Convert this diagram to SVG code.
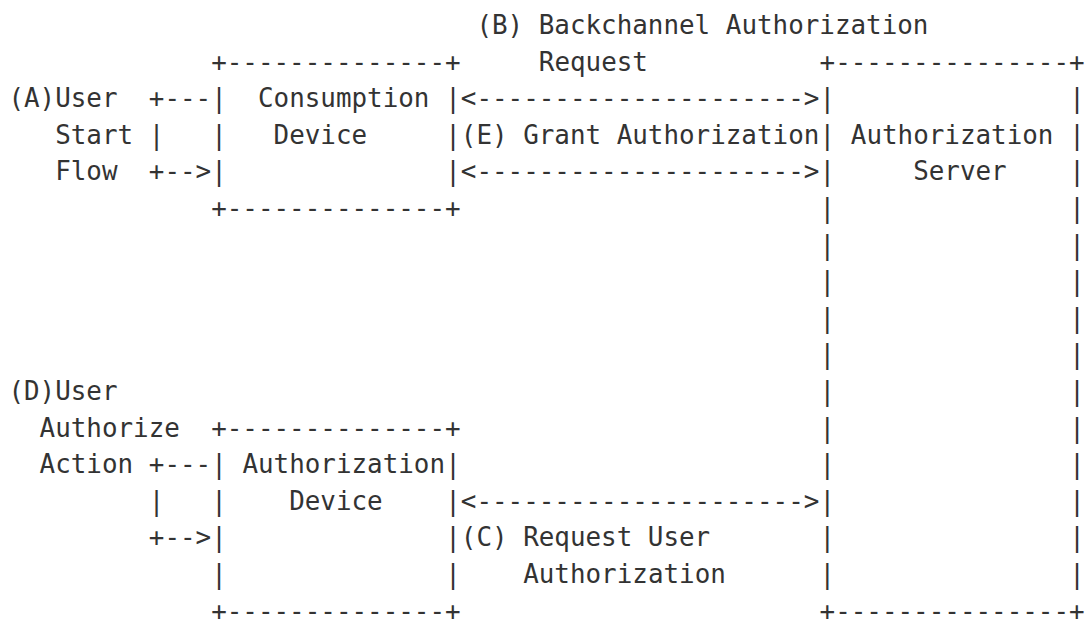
<svg xmlns="http://www.w3.org/2000/svg" width="1086" height="621" viewBox="0 0 1086 621">
<style>
text{font-family:"DejaVu Sans Mono","Liberation Mono",monospace;font-size:25.9px;fill:#333333}
</style>
<rect x="0" y="0" width="1086" height="621" fill="#ffffff"/>
<g id="user-a">
<text x="8.4" y="107.2">(A)User</text>
<text x="55.2" y="143.8">Start</text>
<text x="55.2" y="180.4">Flow</text>
</g>
<g id="user-d">
<text x="8.4" y="400">(D)User</text>
<text x="39.6" y="436.6">Authorize</text>
<text x="39.6" y="473.2">Action</text>
</g>
<g id="consumption-device">
<text x="211.2" y="70.6">+--------------+</text>
<text x="211.2" y="107.2">|</text><text x="258" y="107.2">Consumption</text><text x="445.2" y="107.2">|</text>
<text x="211.2" y="143.8">|</text><text x="273.6" y="143.8">Device</text><text x="445.2" y="143.8">|</text>
<text x="211.2" y="180.4">|</text><text x="445.2" y="180.4">|</text>
<text x="211.2" y="217">+--------------+</text>
</g>
<g id="authorization-server">
<text x="819.6" y="70.6">+---------------+</text>
<text x="819.6" y="107.2">|</text><text x="1069.2" y="107.2">|</text>
<text x="819.6" y="143.8">|</text><text x="850.8" y="143.8">Authorization</text><text x="1069.2" y="143.8">|</text>
<text x="819.6" y="180.4">|</text><text x="913.2" y="180.4">Server</text><text x="1069.2" y="180.4">|</text>
<text x="819.6" y="217">|</text><text x="1069.2" y="217">|</text>
<text x="819.6" y="253.6">|</text><text x="1069.2" y="253.6">|</text>
<text x="819.6" y="290.2">|</text><text x="1069.2" y="290.2">|</text>
<text x="819.6" y="326.8">|</text><text x="1069.2" y="326.8">|</text>
<text x="819.6" y="363.4">|</text><text x="1069.2" y="363.4">|</text>
<text x="819.6" y="400">|</text><text x="1069.2" y="400">|</text>
<text x="819.6" y="436.6">|</text><text x="1069.2" y="436.6">|</text>
<text x="819.6" y="473.2">|</text><text x="1069.2" y="473.2">|</text>
<text x="819.6" y="509.8">|</text><text x="1069.2" y="509.8">|</text>
<text x="819.6" y="546.4">|</text><text x="1069.2" y="546.4">|</text>
<text x="819.6" y="583">|</text><text x="1069.2" y="583">|</text>
<text x="819.6" y="619.6">+---------------+</text>
</g>
<g id="authorization-device">
<text x="211.2" y="436.6">+--------------+</text>
<text x="211.2" y="473.2">|</text><text x="242.4" y="473.2">Authorization</text><text x="445.2" y="473.2">|</text>
<text x="211.2" y="509.8">|</text><text x="289.2" y="509.8">Device</text><text x="445.2" y="509.8">|</text>
<text x="211.2" y="546.4">|</text><text x="445.2" y="546.4">|</text>
<text x="211.2" y="583">|</text><text x="445.2" y="583">|</text>
<text x="211.2" y="619.6">+--------------+</text>
</g>
<g id="connectors">
<text x="148.8" y="107.2">+---</text>
<text x="148.8" y="143.8">|</text>
<text x="148.8" y="180.4">+--&gt;</text>
<text x="148.8" y="473.2">+---</text>
<text x="148.8" y="509.8">|</text>
<text x="148.8" y="546.4">+--&gt;</text>
<text x="460.8" y="107.2">&lt;---------------------&gt;</text>
<text x="460.8" y="180.4">&lt;---------------------&gt;</text>
<text x="460.8" y="509.8">&lt;---------------------&gt;</text>
</g>
<g id="labels">
<text x="476.4" y="34">(B) Backchannel Authorization</text>
<text x="538.8" y="70.6">Request</text>
<text x="460.8" y="143.8">(E) Grant Authorization</text>
<text x="460.8" y="546.4">(C) Request User</text>
<text x="523.2" y="583">Authorization</text>
</g>
</svg>
